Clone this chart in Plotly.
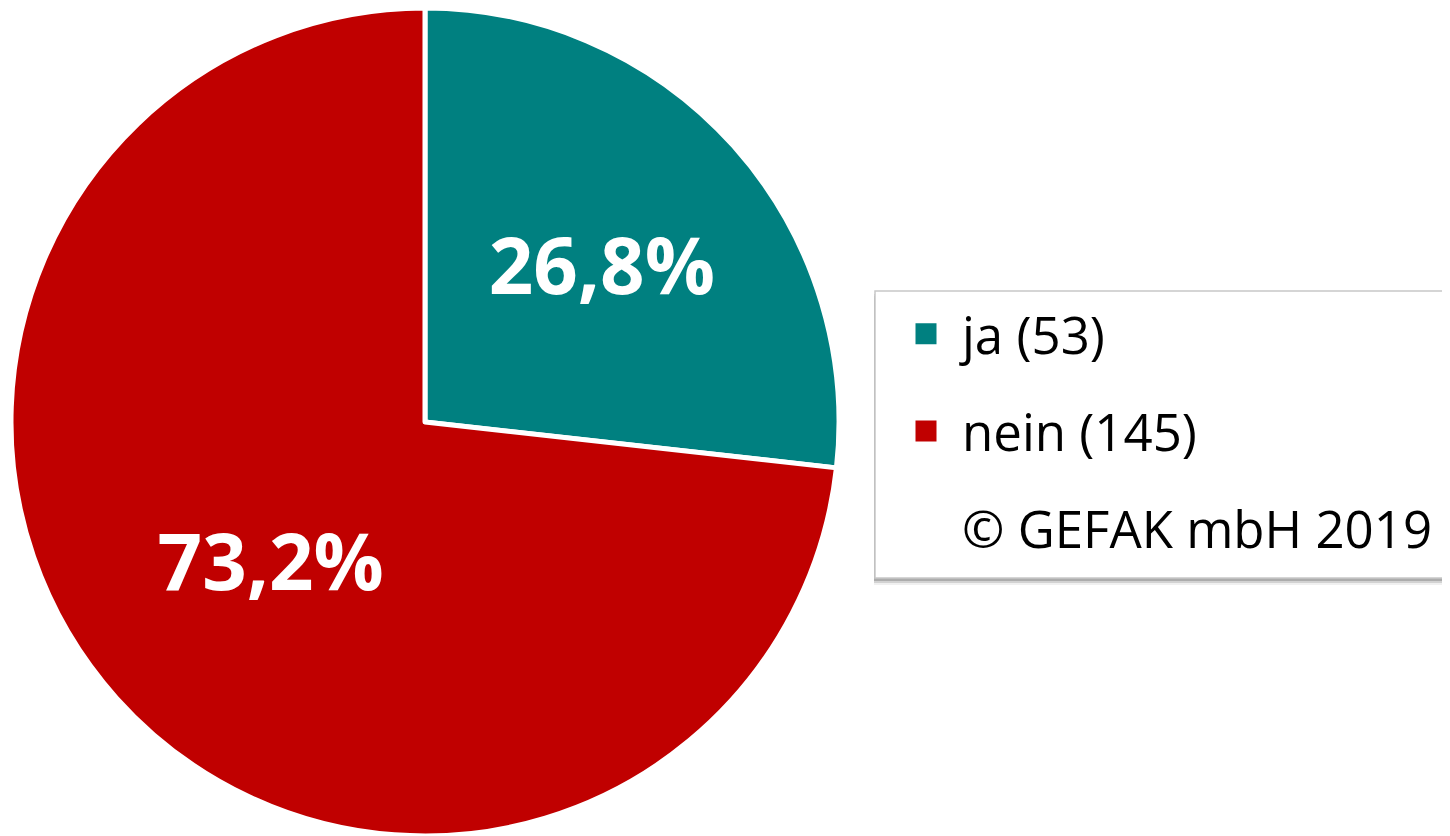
import plotly.graph_objects as go

# survey answers and their counts
labels = ['ja', 'nein']
counts = [53, 145]
colors = ['#008080', '#C00000']
credit = '© GEFAK mbH 2019'

# page body has an 8px margin, so the figure is a bit smaller than the window
W, H = 1442, 828
OFF = 8


def px_x(v):
    return (v - OFF) / W


def px_y(v):
    return 1 - (v - OFF) / H


fig = go.Figure()

fig.add_trace(go.Pie(
    labels=labels,
    values=counts,
    sort=False,
    direction='clockwise',
    rotation=0,
    marker=dict(colors=colors, line=dict(color='white', width=5)),
    texttemplate='%{percent:.1%}',
    textposition='inside',
    insidetextorientation='horizontal',
    textfont=dict(family='Open Sans', size=78, color='white', weight='bold'),
    domain=dict(x=[0, 834 / W], y=[0, 1]),
    showlegend=False,
))

# legend entries (pie legend symbols are too small, so use dummy markers)
for lab, n, c in zip(labels, counts, colors):
    fig.add_trace(go.Scatter(
        x=[None], y=[None], mode='markers', name=f'{lab} ({n})',
        marker=dict(symbol='square', size=16, color=c, line=dict(color=c, width=5)),
        legendgroup=lab,
    ))
fig.add_trace(go.Scatter(
    x=[None], y=[None], mode='markers', name=credit,
    marker=dict(color='rgba(0,0,0,0)'), legendgroup='credit',
))

# legend box with a soft shadow
shapes = []
for off, col in [(7, 'rgba(0,0,0,0.06)'), (5, 'rgba(0,0,0,0.12)'), (3, 'rgba(0,0,0,0.18)')]:
    shapes.append(dict(type='rect', xref='paper', yref='paper',
                       x0=px_x(875 - 1), x1=px_x(1480), y0=px_y(578 + off), y1=px_y(291 + off),
                       fillcolor=col, line=dict(width=0), layer='above'))
shapes.append(dict(type='rect', xref='paper', yref='paper',
                   x0=px_x(875), x1=px_x(1480), y0=px_y(578), y1=px_y(291),
                   fillcolor='white', line=dict(color='#c8c8c8', width=1.5), layer='above'))

fig.update_layout(
    width=W,
    height=H,
    margin=dict(l=0, r=0, t=0, b=0, autoexpand=False),
    paper_bgcolor='white',
    plot_bgcolor='white',
    separators=',.',
    xaxis=dict(visible=False),
    yaxis=dict(visible=False),
    shapes=shapes,
    showlegend=True,
    legend=dict(
        x=px_x(890), y=px_y(294), xanchor='left', yanchor='top',
        font=dict(family='Open Sans', size=51, color='black'),
        bgcolor='rgba(0,0,0,0)', borderwidth=0,
        itemwidth=62, tracegroupgap=28,
    ),
)

fig.write_html('out.html')
